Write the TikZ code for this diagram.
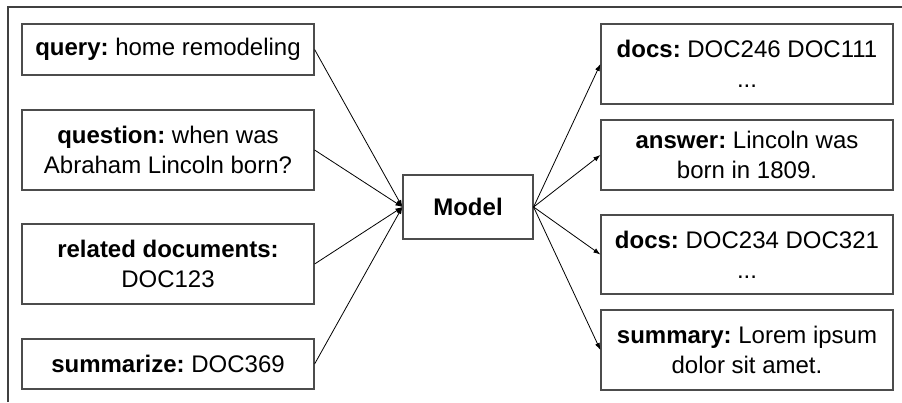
\documentclass[tikz,border=0pt]{standalone}
\usepackage{fontspec}
\setmainfont{Liberation Sans}
\usetikzlibrary{
  positioning,arrows.meta
}
\definecolor{frameline}{gray}{0.25}
\definecolor{boxline}{gray}{0.3}
\frenchspacing

\begin{document}
\begin{tikzpicture}[x=1pt,y=-1pt,
  iobox/.style={draw=boxline,line width=1.2pt,minimum width=292pt,
    inner sep=0pt,align=center,font=\fontsize{24}{30}\selectfont},
  modelbox/.style={draw=boxline,line width=1.2pt,minimum width=130pt,
    minimum height=64pt,inner sep=0pt,font=\bfseries\fontsize{24}{30}\selectfont},
  feed/.style={line width=0.8pt,-{Latex[length=7pt,width=5pt]}}
]
\useasboundingbox (0,0) rectangle (902,402);
\draw[frameline,line width=1.3pt] (8,402) -- (8,7) -- (902,7);

% inputs
\node[iobox,minimum height=51pt] (query) at (168,49.5) {\textbf{query:} home remodeling};
\node[iobox,minimum height=80pt] (question) at (168,150) {\textbf{question:} when was\\Abraham Lincoln born?};
\node[iobox,minimum height=80pt] (related) at (168,264) {\textbf{related documents:}\\DOC123};
\node[iobox,minimum height=50pt] (summarize) at (168,364) {\textbf{summarize:} DOC369};

\node[modelbox] (model) at (468,207) {Model};

% outputs
\node[iobox,minimum height=80pt] (docsA) at (747,64) {\textbf{docs:} DOC246 DOC111\\...};
\node[iobox,minimum height=70pt] (answer) at (747,155) {\textbf{answer:} Lincoln was\\born in 1809.};
\node[iobox,minimum height=79pt] (docsB) at (747,254.5) {\textbf{docs:} DOC234 DOC321\\...};
\node[iobox,minimum height=80pt] (summary) at (747,350) {\textbf{summary:} Lorem ipsum\\dolor sit amet.};

\foreach \src in {query,question,related,summarize}
  \draw[feed] (\src.east) -- (model.west);
\foreach \dst in {docsA,answer,docsB,summary}
  \draw[feed] (model.east) -- (\dst.west);
\end{tikzpicture}
\end{document}
